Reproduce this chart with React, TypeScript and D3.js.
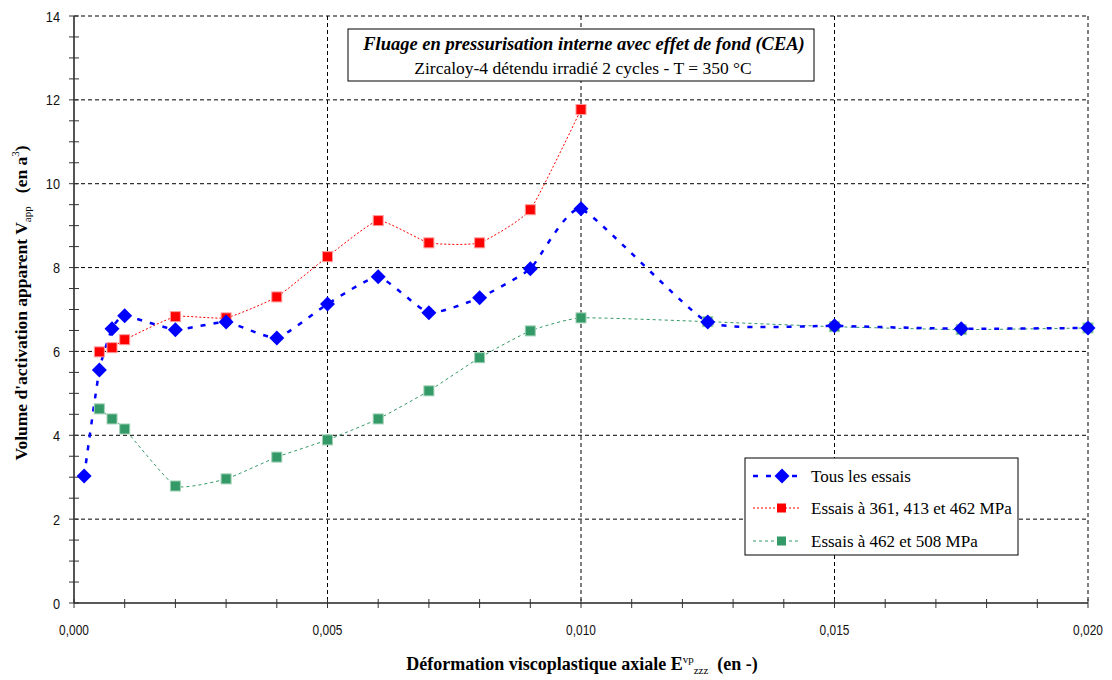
import React from "react";
import * as d3 from "d3";

const xAll = [0.0002, 0.0005, 0.00075, 0.001, 0.002, 0.003, 0.004, 0.005, 0.006, 0.007, 0.008, 0.009, 0.010, 0.0125, 0.015, 0.0175, 0.020];
const yAll = [3.03, 5.56, 6.54, 6.85, 6.52, 6.70, 6.32, 7.13, 7.78, 6.92, 7.28, 7.97, 9.40, 6.70, 6.61, 6.54, 6.56];

const xRed = [0.0005, 0.00075, 0.001, 0.002, 0.003, 0.004, 0.005, 0.006, 0.007, 0.008, 0.009, 0.010];
const yRed = [5.99, 6.09, 6.28, 6.83, 6.80, 7.30, 8.26, 9.12, 8.59, 8.59, 9.38, 11.77];

const xGreen = [0.0005, 0.00075, 0.001, 0.002, 0.003, 0.004, 0.005, 0.006, 0.007, 0.008, 0.009, 0.010, 0.0125, 0.015, 0.0175, 0.020];
const yGreen = [4.63, 4.39, 4.15, 2.79, 2.96, 3.48, 3.89, 4.39, 5.06, 5.85, 6.49, 6.80, 6.71, 6.59, 6.52, 6.56];

const xTicks = [0, 0.005, 0.010, 0.015, 0.020];
const xTickLabels = ["0,000", "0,005", "0,010", "0,015", "0,020"];
const yTicks = [0, 2, 4, 6, 8, 10, 12, 14];

const legendLabels = ["Tous les essais", "Essais à 361, 413 et 462 MPa", "Essais à 462 et 508 MPa"];
const titleLine1 = "Fluage en pressurisation interne avec effet de fond (CEA)";
const titleLine2 = "Zircaloy-4 détendu irradié 2 cycles - T = 350 °C";

const FONT = "Liberation Serif";
const SANS = "Liberation Sans";
const BLUE = "#0000ff";
const RED = "#ff0000";
const GREEN = "#339966";

export default function App() {
  const W = 1112, H = 680;
  const x0 = 74, x1 = 1088, y0 = 603, y1 = 16;
  const x = d3.scaleLinear().domain([0, 0.02]).range([x0, x1]);
  const y = d3.scaleLinear().domain([0, 14]).range([y0, y1]);

  const line = (xs: number[], ys: number[]) =>
    d3.line<number>().x((_, i) => x(xs[i])).y((_, i) => y(ys[i])).curve(d3.curveCardinal.tension(0.55))(xs.map((_, i) => i)) || "";

  const r = 7.5;
  const diamond = `M0,${-r}L${r},0L0,${r}L${-r},0Z`;

  const minorX = d3.range(0, 21).map((i) => i * 0.001);
  const minorY = d3.range(0, 29).map((i) => i * 0.5);

  const legendY = [476, 508, 541];

  return (
    <svg width={W} height={H} style={{ position: "fixed", left: 0, top: 0, background: "#fff" }}>
      <rect x={0} y={0} width={W} height={H} fill="#fff" />
      {/* grid */}
      {yTicks.filter((t) => t > 0).map((t) => (
        <line key={"gy" + t} x1={x0} x2={x1} y1={y(t)} y2={y(t)} stroke="#000" strokeWidth={1} strokeDasharray="4,3" />
      ))}
      {xTicks.filter((t) => t > 0).map((t) => (
        <line key={"gx" + t} x1={x(t)} x2={x(t)} y1={y1} y2={y0} stroke="#000" strokeWidth={1} strokeDasharray="4,3" />
      ))}
      {/* axes */}
      <line x1={x0} x2={x0} y1={y1} y2={y0} stroke="#555" strokeWidth={2} />
      <line x1={x0} x2={x1} y1={y0} y2={y0} stroke="#222" strokeWidth={1.5} />
      {minorY.map((t) => (
        <line key={"ty" + t} x1={x0 - 5} x2={x0 + 5} y1={y(t)} y2={y(t)} stroke="#333" strokeWidth={1} />
      ))}
      {minorX.map((t) => (
        <line key={"tx" + t} x1={x(t)} x2={x(t)} y1={y0 - 4} y2={y0 + 5} stroke="#333" strokeWidth={1} />
      ))}
      {yTicks.map((t) => (
        <text key={"ly" + t} transform={`translate(${x0 - 14},${y(t) + 5.5}) scale(0.85,1)`} textAnchor="end" fontSize={15} fontFamily={SANS} fill="#111">{t}</text>
      ))}
      {xTicks.map((t, i) => (
        <text key={"lx" + t} transform={`translate(${x(t)},${635}) scale(0.85,1)`} textAnchor="middle" fontSize={14} fontFamily={SANS} fill="#111">{xTickLabels[i]}</text>
      ))}
      {/* series lines */}
      <path d={line(xGreen, yGreen)} fill="none" stroke={GREEN} strokeWidth={1} strokeDasharray="3,3" />
      <path d={line(xRed, yRed)} fill="none" stroke={RED} strokeWidth={1} strokeDasharray="2,2" />
      <path d={line(xAll, yAll)} fill="none" stroke={BLUE} strokeWidth={2.5} strokeDasharray="5,8" />
      {/* markers */}
      {xGreen.map((v, i) => (
        <rect key={"mg" + i} x={x(v) - 5} y={y(yGreen[i]) - 5} width={10} height={10} fill={GREEN} stroke="#9fd0b4" strokeWidth={1} />
      ))}
      {xRed.map((v, i) => (
        <rect key={"mr" + i} x={x(v) - 5} y={y(yRed[i]) - 5} width={10} height={10} fill={RED} stroke="#ff9a9a" strokeWidth={1} />
      ))}
      {xAll.map((v, i) => (
        <path key={"mb" + i} d={diamond} transform={`translate(${x(v)},${y(yAll[i])})`} fill={BLUE} />
      ))}
      {/* title box */}
      <rect x={348} y={29} width={466} height={52} fill="#fff" stroke="#000" strokeWidth={1} />
      <text x={584} y={50} textAnchor="middle" fontSize={18.5} fontWeight="bold" fontStyle="italic" fontFamily={FONT}>{titleLine1}</text>
      <text x={583} y={74} textAnchor="middle" fontSize={17.5} fontFamily={FONT}>{titleLine2}</text>
      {/* legend */}
      <rect x={745} y={458} width={273} height={97} fill="#fff" stroke="#000" strokeWidth={1} />
      <line x1={753} x2={800} y1={legendY[0]} y2={legendY[0]} stroke={BLUE} strokeWidth={2.5} strokeDasharray="5,8" />
      <path d={diamond} transform={`translate(${782},${legendY[0]})`} fill={BLUE} />
      <line x1={753} x2={800} y1={legendY[1]} y2={legendY[1]} stroke={RED} strokeWidth={1} strokeDasharray="2,2" />
      <rect x={777} y={legendY[1] - 4.5} width={9} height={9} fill={RED} />
      <line x1={753} x2={800} y1={legendY[2]} y2={legendY[2]} stroke={GREEN} strokeWidth={1} strokeDasharray="3,3" />
      <rect x={777} y={legendY[2] - 4.5} width={9} height={9} fill={GREEN} />
      {legendLabels.map((l, i) => (
        <text key={"leg" + i} x={811} y={legendY[i] + 6} fontSize={17} fontFamily={FONT}>{l}</text>
      ))}
      {/* axis titles */}
      <text x={582} y={670} textAnchor="middle" fontSize={18} fontWeight="bold" fontFamily={FONT}>
        Déformation viscoplastique axiale E
        <tspan fontSize={11} fontWeight="normal" dy={-7}>vp</tspan>
        <tspan fontSize={11} fontWeight="normal" dy={11}>zzz</tspan>
        <tspan dy={-4}>{"\u00a0 (en -)"}</tspan>
      </text>
      <text transform="translate(27,303) rotate(-90)" textAnchor="middle" fontSize={17.5} fontWeight="bold" fontFamily={FONT}>
        Volume d'activation apparent V
        <tspan fontSize={11} fontWeight="normal" dy={4}>app</tspan>
        <tspan dy={-4}>{"\u00a0\u00a0 (en a"}</tspan>
        <tspan fontSize={11} fontWeight="normal" dy={-8}>3</tspan>
        <tspan dy={8}>)</tspan>
      </text>
    </svg>
  );
}
